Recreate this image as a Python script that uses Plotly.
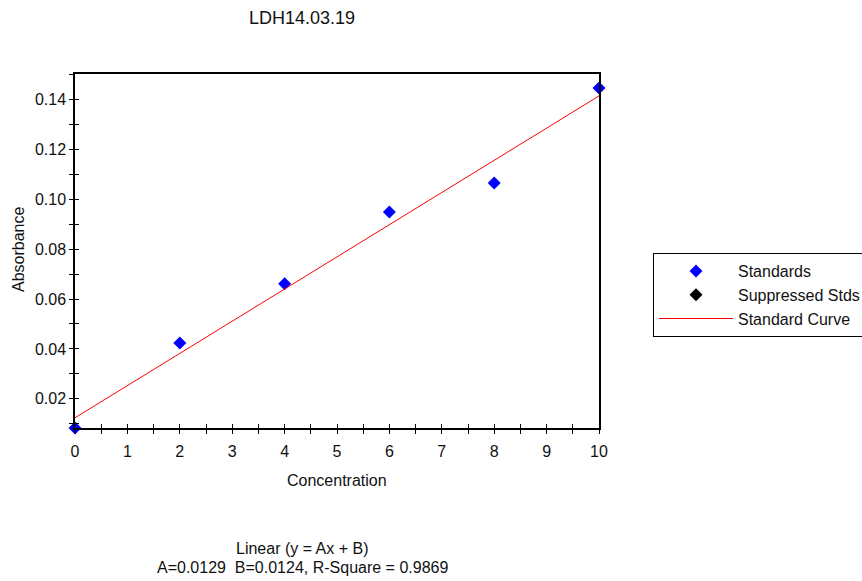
import plotly.graph_objects as go

# ---- data ----
title_text = "LDH14.03.19"
conc = [0, 2, 4, 6, 8, 10]
absorb = [0.0083, 0.0424, 0.0661, 0.0949, 0.1065, 0.1446]
suppressed_x = [None]
suppressed_y = [None]
fit_A = 0.0129
fit_B = 0.0124
fit_x = [0, 10]
fit_y = [fit_A * v + fit_B for v in fit_x]
x_range = [0, 10]
y_range = [0.0083, 0.1502]
fit_label_1 = "Linear (y = Ax + B)"
fit_label_2 = "A=0.0129  B=0.0124, R-Square = 0.9869"

FONT = "Liberation Sans, Arial, sans-serif"
W, H = 862, 581
L, R, T, B = 75, 599, 74, 428


def px(xp):
    return (xp - L) / (R - L)


def py(yp):
    return (B - yp) / (B - T)


fig = go.Figure()
fig.add_trace(go.Scatter(
    x=conc, y=absorb, mode="markers", name="Standards",
    marker=dict(symbol="diamond", color="#0000ff", size=10, line=dict(width=0)),
    cliponaxis=False,
))
fig.add_trace(go.Scatter(
    x=suppressed_x, y=suppressed_y, mode="markers", name="Suppressed Stds",
    marker=dict(symbol="diamond", color="#000000", size=10, line=dict(width=0)),
))
fig.add_trace(go.Scatter(
    x=fit_x, y=fit_y, mode="lines", name="Standard Curve",
    line=dict(color="#ff0000", width=1),
))
# invisible trace for inward-tick overlay axes
fig.add_trace(go.Scatter(x=[], y=[], xaxis="x2", yaxis="y2", showlegend=False))

axis_common = dict(showgrid=False, zeroline=False, showline=True,
                   linecolor="#000000", linewidth=1.5,
                   tickcolor="#000000", tickwidth=1, ticklen=4,
                   tickfont=dict(family=FONT, size=16, color="#111111"))

fig.update_layout(
    width=W, height=H,
    margin=dict(l=L, r=W - R, t=T, b=H - B, autoexpand=False),
    paper_bgcolor="white", plot_bgcolor="white",
    font=dict(family=FONT, size=16, color="#111111"),
    xaxis=dict(range=x_range, tick0=0, dtick=1, ticks="outside", mirror=True,
               ticklabelstandoff=4,
               minor=dict(dtick=0.5, ticks="outside", ticklen=4, tickcolor="#000000"),
               **axis_common),
    yaxis=dict(range=y_range, tick0=0, dtick=0.02, tickformat=".2f", ticks="outside",
               mirror=True,
               minor=dict(dtick=0.01, ticks="outside", ticklen=4, tickcolor="#000000"),
               **axis_common),
    xaxis2=dict(range=x_range, overlaying="x", anchor="y2", side="bottom",
                tick0=0, dtick=1, ticks="inside", showticklabels=False,
                showgrid=False, zeroline=False, showline=False,
                tickcolor="#000000", ticklen=4,
                minor=dict(dtick=0.5, ticks="inside", ticklen=4, tickcolor="#000000")),
    yaxis2=dict(range=y_range, overlaying="y", anchor="x2", side="left",
                tick0=0, dtick=0.02, ticks="inside", showticklabels=False,
                showgrid=False, zeroline=False, showline=False,
                tickcolor="#000000", ticklen=4,
                minor=dict(dtick=0.01, ticks="inside", ticklen=4, tickcolor="#000000")),
    legend=dict(x=px(653), y=py(253), xanchor="left", yanchor="top",
                bordercolor="#000000", borderwidth=1, bgcolor="white",
                font=dict(family=FONT, size=16, color="#111111"),
                tracegroupgap=0, itemwidth=74),
    showlegend=True,
)

annots = [
    dict(text=title_text, x=px(302), y=py(18), font=dict(size=18)),
    dict(text="Absorbance", x=px(18), y=py(250), textangle=-90, font=dict(size=16)),
    dict(text="Concentration", x=px(337), y=py(480), font=dict(size=16)),
    dict(text=fit_label_1, x=px(302), y=py(548), font=dict(size=16)),
    dict(text=fit_label_2, x=px(302), y=py(567), font=dict(size=16)),
]
for a in annots:
    fig.add_annotation(xref="paper", yref="paper", showarrow=False,
                       xanchor="center", yanchor="middle", **a)

fig.write_html("out.html")
